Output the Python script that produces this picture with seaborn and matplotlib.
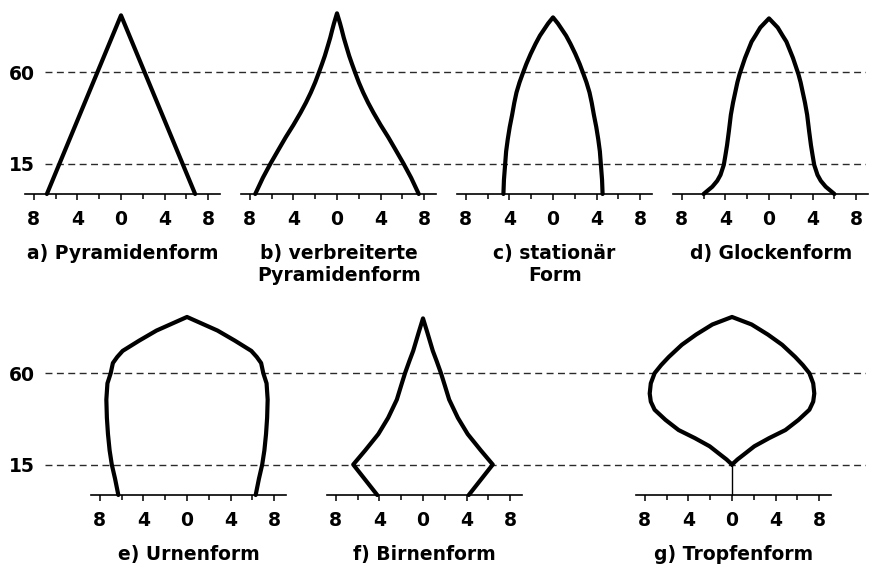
import numpy as np
import pandas as pd
import seaborn as sns
import matplotlib.pyplot as plt

# Age structure outlines: ages (years) and half-width (% of population)
pyr_age = [0, 88]
pyr_w = [6.8, 0.0]

wide_age = [0, 8, 15, 22, 28, 34, 40, 45, 50, 55, 60, 64, 68, 73, 77, 81, 84, 89]
wide_w = [7.5, 6.8, 6.1, 5.35, 4.7, 4.0, 3.35, 2.85, 2.4, 2.0, 1.65, 1.38, 1.12, 0.84, 0.62, 0.43, 0.28, 0.0]

stat_age = [0, 7, 14, 21, 27, 33, 39, 45, 50, 55, 59, 64, 69, 74, 78, 84, 87]
stat_w = [4.55, 4.5, 4.4, 4.3, 4.15, 3.97, 3.75, 3.55, 3.35, 3.07, 2.8, 2.45, 2.05, 1.6, 1.2, 0.45, 0.0]

bell_age = [0, 3.6, 6.5, 9.4, 14.3, 19, 24, 31, 39, 45, 50, 55, 59, 63, 67, 71, 75, 78, 82, 86.5]
bell_w = [6.0, 5.2, 4.75, 4.45, 4.15, 4.0, 3.85, 3.68, 3.5, 3.3, 3.1, 2.9, 2.7, 2.45, 2.2, 1.9, 1.6, 1.25, 0.8, 0.0]

urn_age = [0, 8, 15, 22, 30, 38, 47, 55, 60, 65, 68, 71, 76, 81, 87.7]
urn_w = [6.3, 6.6, 6.9, 7.1, 7.25, 7.35, 7.4, 7.3, 7.0, 6.8, 6.4, 5.9, 4.4, 2.8, 0.0]

pear_age = [0, 15, 22, 30, 38, 47, 54, 60, 66, 71, 80, 87]
pear_w = [4.2, 6.4, 5.3, 4.1, 3.2, 2.4, 2.0, 1.65, 1.25, 0.9, 0.4, 0.0]

drop_age = [15, 17.5, 20, 24, 28, 32, 37, 42, 46, 50, 55, 60, 64, 68, 74, 79, 84, 87.7]
drop_w = [0.0, 0.5, 1.1, 2.05, 3.4, 4.9, 6.1, 7.1, 7.45, 7.55, 7.45, 7.1, 6.5, 5.8, 4.6, 3.3, 1.8, 0.0]
drop_stem_age = [0, 15]

titles = ["a) Pyramidenform", "b) verbreiterte\nPyramidenform", "c) stationär\nForm",
          "d) Glockenform", "e) Urnenform", "f) Birnenform", "g) Tropfenform"]
ref_ages = [60, 15]
tick_vals = [-8, -4, 0, 4, 8]
tick_labels = ["8", "4", "0", "4", "8"]

shapes = [(pyr_age, pyr_w), (wide_age, wide_w), (stat_age, stat_w), (bell_age, bell_w),
          (urn_age, urn_w), (pear_age, pear_w), (drop_age, drop_w)]

sns.set_style("white")
plt.rcParams["font.family"] = ["DejaVu Sans"]
plt.rcParams["font.weight"] = "bold"
plt.rcParams["text.color"] = "black"
plt.rcParams["axes.labelcolor"] = "black"
plt.rcParams["xtick.color"] = "black"
plt.rcParams["ytick.color"] = "black"

W, H = 874, 570
FS = 13.5
fig = plt.figure(figsize=(W / 100, H / 100), dpi=100)

# layout in pixels
px_per_unit = 10.9
xlo, xhi = -8.8, 9.1
age_max = 90
px_per_year = 2.03
row_base = [194, 495]          # pixel row of age 0
row_centers = [[121, 337, 553, 769], [187, 423, 732]]


def outline(ages, widths):
    ages = np.asarray(ages, float)
    widths = np.asarray(widths, float)
    return pd.DataFrame({"x": np.concatenate([-widths, widths[::-1]]),
                         "age": np.concatenate([ages, ages[::-1]])})


k = 0
for r in range(2):
    bottom = (H - row_base[r]) / H
    height = age_max * px_per_year / H
    # background with dashed reference lines and age labels
    bg = fig.add_axes([45 / W, bottom, (866 - 45) / W, height])
    bg.set_xlim(0, 1)
    bg.set_ylim(0, age_max)
    for a in ref_ages:
        bg.axhline(a, color="#2a2a2a", lw=1.0, dashes=(5, 3.2))
    bg.set_yticks(ref_ages)
    bg.set_yticklabels([str(a) for a in ref_ages], fontsize=FS, fontweight="bold")
    bg.tick_params(axis="y", length=0, pad=7)
    bg.set_xticks([])
    sns.despine(ax=bg, left=True, bottom=True)
    bg.patch.set_alpha(0)

    for c in row_centers[r]:
        left = (c + xlo * px_per_unit) / W
        width = (xhi - xlo) * px_per_unit / W
        ax = fig.add_axes([left, bottom, width, height])
        ax.patch.set_alpha(0)
        ages, widths = shapes[k]
        df = outline(ages, widths)
        sns.lineplot(data=df, x="x", y="age", sort=False, estimator=None,
                     color="black", lw=3, ax=ax)
        if k == 6:
            stem = pd.DataFrame({"x": [0, 0], "age": drop_stem_age})
            sns.lineplot(data=stem, x="x", y="age", sort=False, estimator=None,
                         color="black", lw=1.0, ax=ax)
        for ln in ax.lines:
            ln.set_clip_on(False)
        ax.set_xlim(xlo, xhi)
        ax.set_ylim(0, age_max)
        sns.despine(ax=ax, left=True)
        ax.spines["bottom"].set_linewidth(1.2)
        ax.spines["bottom"].set_color("black")
        ax.set_yticks([])
        ax.set_xticks(tick_vals)
        ax.set_xticklabels(tick_labels, fontsize=FS, fontweight="bold")
        ax.set_xticks([-6, -2, 2, 6], minor=True)
        ax.tick_params(axis="x", which="major", bottom=True, direction="out",
                       length=4.5, width=1.1, pad=7, color="black")
        ax.tick_params(axis="x", which="minor", bottom=True, direction="out",
                       length=3.5, width=1.1, color="black")
        ax.set_ylabel("")
        ax.set_xlabel(titles[k], fontsize=FS, fontweight="bold", labelpad=11,
                      linespacing=1.2)
        k += 1

fig.savefig("out.png", dpi=100)
